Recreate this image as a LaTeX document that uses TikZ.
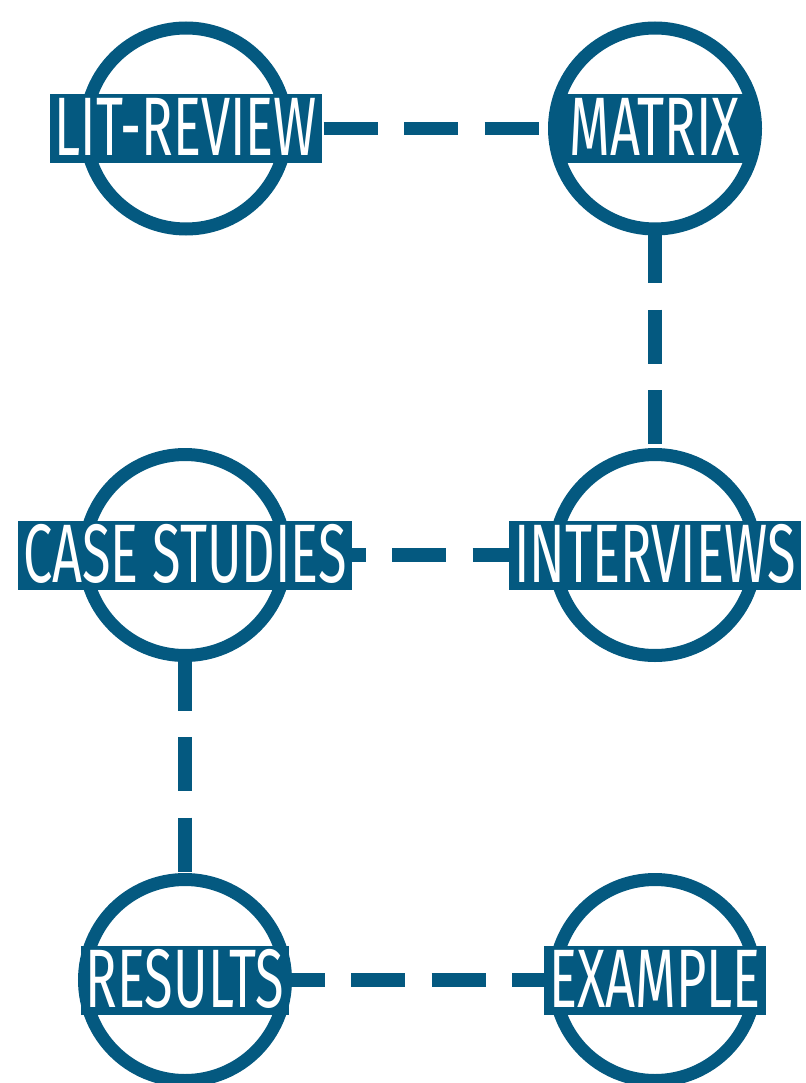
\documentclass[tikz,border=0pt]{standalone}
\usepackage{fontspec}
\newfontfamily\labelfont[FakeStretch=0.63]{Fira Sans}
\usetikzlibrary{backgrounds}
\definecolor{roundel}{RGB}{4,89,128}
\tikzset{
  ring/.style={circle, draw=roundel, fill=white, line width=13pt,
    minimum size=201pt, inner sep=0pt, outer sep=0pt},
  tag/.style={fill=roundel, text=white,
    font=\labelfont\fontsize{83}{83}\selectfont,
    text height=55pt, text depth=0pt, inner ysep=7pt, inner xsep=5pt,
    minimum width=201pt, outer sep=0pt},
  link/.style={draw=roundel, line width=13.5pt, dash pattern=on 54pt off 26.5pt},
}
\begin{document}
\begin{tikzpicture}[x=1pt, y=-1pt]
  \useasboundingbox (0,0) rectangle (805,1083);

  % roundels: ring first, name bar on top
  \node[ring] (litring) at (186,128.5) {};
  \node[tag]  (lit)     at (186,128.5) {LIT-REVIEW};
  \node[ring] (matrixring) at (655,128.5) {};
  \node[tag]  (matrix)     at (655,128.5) {MATRIX};
  \node[ring] (casering) at (185,555) {};
  \node[tag]  (case)     at (185,555) {CASE STUDIES};
  \node[ring] (interviewsring) at (655,555) {};
  \node[tag]  (interviews)     at (655,555) {INTERVIEWS};
  \node[ring] (resultsring) at (185,980) {};
  \node[tag]  (results)     at (185,980) {RESULTS};
  \node[ring] (examplering) at (655,980) {};
  \node[tag]  (example)     at (655,980) {EXAMPLE};

  % dashed links run centre to centre, hidden under the roundels
  \begin{scope}[on background layer]
    \fill[white] (0,0) rectangle (805,1083);
    \draw[link, dash phase=23.5pt] (lit.center) -- (matrix.center);
    \draw[link, dash phase=60.5pt] (matrix.center) -- (interviews.center);
    \draw[link, dash phase=34.5pt] (case.center) -- (interviews.center);
    \draw[link, dash phase=59.5pt] (case.center) -- (results.center);
    \draw[link, dash phase=75.5pt] (results.center) -- (example.center);
  \end{scope}
\end{tikzpicture}
\end{document}
